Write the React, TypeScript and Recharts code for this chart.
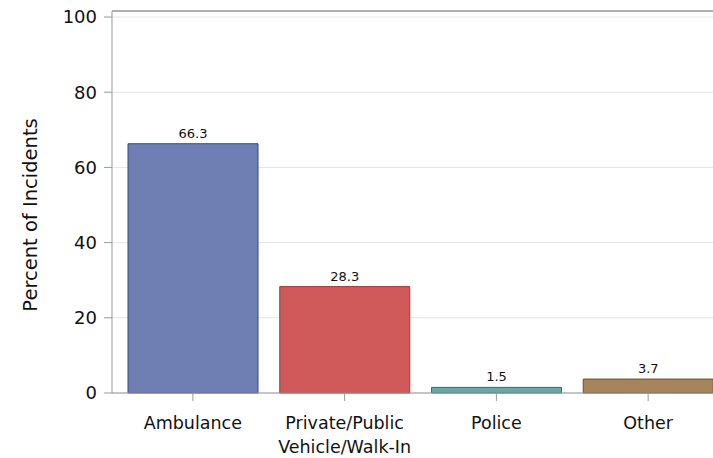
import { BarChart, Bar, XAxis, YAxis, CartesianGrid, Cell, LabelList, ReferenceLine } from "recharts";

const categories = ["Ambulance", "Private/Public\nVehicle/Walk-In", "Police", "Other"];
const percents = [66.3, 28.3, 1.5, 3.7];
const fills = ["#6F7FB3", "#D05A5A", "#66A9A2", "#A8845A"];
const strokes = ["#34468C", "#A13838", "#1E7A72", "#6E4B1F"];
const yTicks = [0, 20, 40, 60, 80, 100];
const yMax = 101.6;

const data = categories.map((name, i) => ({ name, value: percents[i] }));

const font = "'DejaVu Sans', sans-serif";

function CategoryTick({ x, y, payload }: any) {
  const lines = String(payload.value).split("\n");
  return (
    <text x={x} y={y} textAnchor="middle" fontSize={17.5} fill="#111" fontFamily={font}>
      {lines.map((l, i) => (
        <tspan key={i} x={x} dy={i === 0 ? 26 : 24}>
          {l}
        </tspan>
      ))}
    </text>
  );
}

export default function App() {
  return (
    <div style={{ position: "absolute", left: 0, top: 0, background: "#fff" }}>
      <BarChart
        width={730}
        height={458}
        data={data}
        margin={{ top: 11, right: 6, left: 0, bottom: 0 }}
        barSize={130}
      >
        <CartesianGrid horizontal vertical={false} stroke="#e4e4e4" />
        <ReferenceLine y={yMax} stroke="#999" strokeWidth={1.5} />
        <XAxis
          dataKey="name"
          height={65}
          padding={{ left: 5, right: 0 }}
          tickSize={8}
          stroke="#999"
          tick={<CategoryTick />}
          interval={0}
        />
        <YAxis
          width={112}
          domain={[0, yMax]}
          ticks={yTicks}
          tickSize={8}
          tickMargin={7}
          stroke="#999"
          tick={{ fontSize: 18, fill: "#111", fontFamily: font }}
          label={{
            content: () => (
              <text
                x={30}
                y={215}
                transform="rotate(-90, 30, 215)"
                textAnchor="middle"
                dominantBaseline="central"
                fontSize={19.5}
                fill="#111"
                fontFamily={font}
              >
                Percent of Incidents
              </text>
            ),
          }}
        />
        <Bar dataKey="value" isAnimationActive={false}>
          {data.map((d, i) => (
            <Cell key={d.name} fill={fills[i]} stroke={strokes[i]} strokeWidth={1} />
          ))}
          <LabelList dataKey="value" position="top" offset={6} fontSize={13} fill="#111" fontFamily={font} />
        </Bar>
      </BarChart>
    </div>
  );
}
